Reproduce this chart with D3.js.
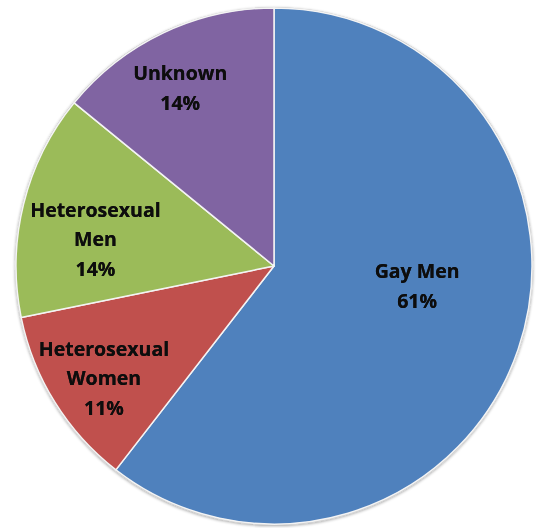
<html><head>
<meta charset="UTF-8">
<title>Pie chart</title>
<script src="https://cdn.jsdelivr.net/npm/d3@7"></script>
<style>
  body { margin: 0; background: #fff; }
  .label { font-family: "Open Sans", sans-serif; font-weight: 700; font-size: 19.5px; fill: #111; }
</style>
</head>
<body>
<div id="chart"></div>
<script>
// data (clockwise from 12 o'clock)
const categories = ["Gay Men", "Heterosexual Women", "Heterosexual Men", "Unknown"];
const labelLines = [["Gay Men"], ["Heterosexual", "Women"], ["Heterosexual", "Men"], ["Unknown"]];
const values = [60.5, 11.3, 14.1, 14.1];
const colors = ["#4F81BD", "#C0504D", "#9BBB59", "#8064A2"];

// where the labels sit: fraction of radius and angle nudge (degrees)
const labelRadius = [0.56, 0.79, 0.70, 0.78];
const labelShift = [-11, -1.6, -5.3, -2.4];

const width = 538, height = 528;
const cx = 274, cy = 266, r = 258;

const svg = d3.select("#chart").append("svg")
    .attr("width", width)
    .attr("height", height);

const defs = svg.append("defs");
const shadow = defs.append("filter").attr("id", "shadow")
    .attr("x", "-10%").attr("y", "-10%").attr("width", "120%").attr("height", "120%");
shadow.append("feGaussianBlur").attr("in", "SourceAlpha").attr("stdDeviation", 1.5);
shadow.append("feOffset").attr("dx", 0).attr("dy", 1).attr("result", "b");
shadow.append("feComponentTransfer").append("feFuncA").attr("type", "linear").attr("slope", 0.35);
const merge = shadow.append("feMerge");
merge.append("feMergeNode");
merge.append("feMergeNode").attr("in", "SourceGraphic");

const glow = defs.append("filter").attr("id", "glow");
glow.append("feGaussianBlur").attr("in", "SourceGraphic").attr("stdDeviation", 0.6).attr("result", "g");
const gm = glow.append("feMerge");
gm.append("feMergeNode").attr("in", "g");
gm.append("feMergeNode").attr("in", "SourceGraphic");

const g = svg.append("g").attr("transform", `translate(${cx},${cy})`);

const pie = d3.pie().sort(null).value(d => d);
const arcs = pie(values);
const arc = d3.arc().innerRadius(0).outerRadius(r);

// outer rim
g.append("circle")
    .attr("r", r + 0.5)
    .attr("fill", "#fff")
    .attr("stroke", "#c8c8c8")
    .attr("stroke-width", 1.2)
    .attr("filter", "url(#shadow)");

g.selectAll("path.slice")
    .data(arcs)
  .enter().append("path")
    .attr("class", "slice")
    .attr("d", arc)
    .attr("fill", (d, i) => colors[i])
    .attr("stroke", "#f4f4f4")
    .attr("stroke-width", 1.5)
    .attr("stroke-linejoin", "round");

const total = d3.sum(values);
const lineH = 29.5, capH = 14;

arcs.forEach((d, i) => {
  const mid = (d.startAngle + d.endAngle) / 2 + labelShift[i] * Math.PI / 180;
  const lr = r * labelRadius[i];
  const x = lr * Math.sin(mid), y = -lr * Math.cos(mid);
  const lines = labelLines[i].concat([Math.round(values[i] / total * 100) + "%"]);
  const y0 = y - (lines.length - 1) * lineH / 2 + capH / 2;
  const t = g.append("text")
      .attr("class", "label")
      .attr("text-anchor", "middle")
      .attr("filter", "url(#glow)");
  lines.forEach((s, j) => {
    t.append("tspan").attr("x", x).attr("y", y0 + j * lineH).text(s);
  });
});
</script>
</body></html>
